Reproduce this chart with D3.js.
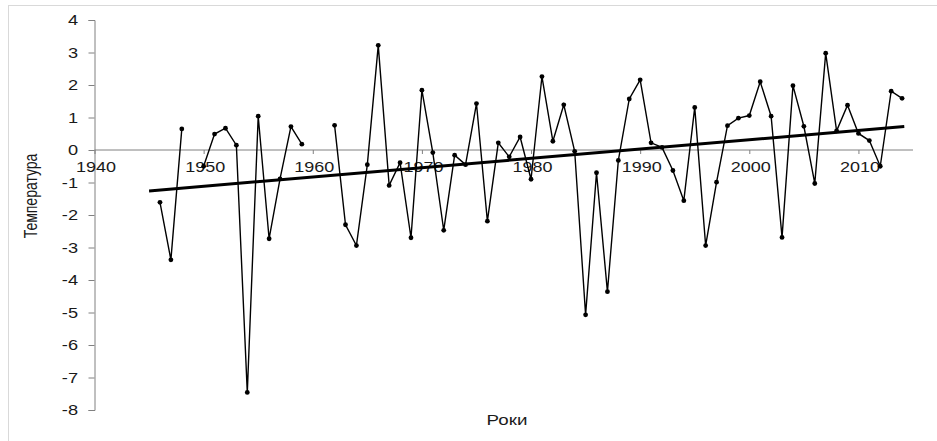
<!DOCTYPE html>
<html>
<head>
<meta charset="utf-8">
<script src="https://cdn.jsdelivr.net/npm/d3@7"></script>
<style>
  html, body { margin: 0; padding: 0; background: #fff; }
  svg { display: block; }
  text { font-family: "Liberation Sans", Arial, sans-serif; fill: #1a1a1a; }
</style>
</head>
<body>
<div id="chart"></div>
<script>
// роки спостережень
const years = [
  1946, 1947, 1948, 1949, 1950, 1951, 1952, 1953, 1954, 1955, 1956, 1957, 1958, 1959,
  1960, 1961, 1962, 1963, 1964, 1965, 1966, 1967, 1968, 1969, 1970, 1971, 1972, 1973,
  1974, 1975, 1976, 1977, 1978, 1979, 1980, 1981, 1982, 1983, 1984, 1985, 1986, 1987,
  1988, 1989, 1990, 1991, 1992, 1993, 1994, 1995, 1996, 1997, 1998, 1999, 2000, 2001,
  2002, 2003, 2004, 2005, 2006, 2007, 2008, 2009, 2010, 2011, 2012, 2013, 2014
];
// аномалії температури (null = пропуск)
const temps = [
  -1.61, -3.38, 0.65, null, -0.50, 0.49, 0.67, 0.15, -7.46, 1.04, -2.73, -0.89, 0.72, 0.18,
  null, null, 0.76, -2.30, -2.94, -0.45, 3.22, -1.09, -0.39, -2.70, 1.84, -0.08, -2.47, -0.16,
  -0.45, 1.43, -2.19, 0.22, -0.21, 0.40, -0.90, 2.26, 0.27, 1.39, -0.04, -5.07, -0.70, -4.36,
  -0.32, 1.57, 2.16, 0.22, 0.08, -0.63, -1.56, 1.31, -2.94, -0.99, 0.75, 0.98, 1.06, 2.10,
  1.04, -2.69, 1.98, 0.73, -1.03, 2.98, 0.59, 1.38, 0.51, 0.29, -0.50, 1.81, 1.59
];
// лінійний тренд (кінцеві точки)
const trendYears = [1945, 2014.2];
const trendValues = [-1.26, 0.72];

const xTicks = [1940, 1950, 1960, 1970, 1980, 1990, 2000, 2010];
const yTicks = [4, 3, 2, 1, 0, -1, -2, -3, -4, -5, -6, -7, -8];

const width = 937, height = 441;

const svg = d3.select('#chart').append('svg')
  .attr('width', width)
  .attr('height', height);

// рамка
svg.append('rect')
  .attr('x', 8.5).attr('y', 5.5)
  .attr('width', 940).attr('height', 450)
  .attr('fill', 'none')
  .attr('stroke', '#d9d9d9');

const x = d3.scaleLinear().domain([1940, 2015]).range([94.5, 913]);
const y = d3.scaleLinear().domain([-8, 4]).range([410, 20]);

// текст, трохи розтягнутий по горизонталі як на оригіналі
function label(g, tx, ty, str, size, anchor, sx) {
  return g.append('text')
    .attr('transform', `translate(${tx},${ty}) scale(${sx},1)`)
    .attr('text-anchor', anchor)
    .style('font-size', size + 'px')
    .text(str);
}

// вісь Y
const yAxis = svg.append('g')
  .attr('transform', `translate(${x(1940)},0)`)
  .call(d3.axisLeft(y).tickValues(yTicks).tickSize(6).tickFormat(''));
yAxis.select('.domain').attr('stroke', '#808080');
yAxis.selectAll('.tick line').attr('stroke', '#808080');

const yLabels = svg.append('g');
yTicks.forEach(t => {
  label(yLabels, 78, y(t) + 5, t < 0 ? '-' + Math.abs(t) : String(t), 14, 'end', 1.3);
});

// вісь X по нульовій лінії
const xAxis = svg.append('g')
  .attr('transform', `translate(0,${y(0)})`)
  .call(d3.axisBottom(x).tickValues(xTicks).tickSize(4).tickFormat(''));
xAxis.select('.domain').attr('stroke', '#808080').attr('d', `M${x(1940)},0H${x(2015)}`);
xAxis.selectAll('.tick line').attr('stroke', '#808080');

const xLabels = svg.append('g');
xTicks.forEach(t => {
  label(xLabels, x(t) + 1.5, y(0) + 22, String(t), 15, 'middle', 1.2);
});

// ряд даних
const series = years.map((yr, i) => ({ year: yr, value: temps[i] }));

const line = d3.line()
  .defined(d => d.value !== null)
  .x(d => x(d.year))
  .y(d => y(d.value));

svg.append('path')
  .datum(series)
  .attr('d', line)
  .attr('fill', 'none')
  .attr('stroke', '#000')
  .attr('stroke-width', 1.4);

svg.append('g')
  .selectAll('circle')
  .data(series.filter(d => d.value !== null))
  .join('circle')
  .attr('cx', d => x(d.year))
  .attr('cy', d => y(d.value))
  .attr('r', 2.4)
  .attr('fill', '#000');

// тренд
svg.append('line')
  .attr('x1', x(trendYears[0])).attr('y1', y(trendValues[0]))
  .attr('x2', x(trendYears[1])).attr('y2', y(trendValues[1]))
  .attr('stroke', '#000')
  .attr('stroke-width', 3);

// підписи осей
svg.append('text')
  .attr('transform', `translate(37,196) rotate(-90) scale(1,1.25)`)
  .attr('text-anchor', 'middle')
  .style('font-size', '14px')
  .text('Температура');

label(svg, 507, 425, 'Роки', 15, 'middle', 1.25);
</script>
</body>
</html>
